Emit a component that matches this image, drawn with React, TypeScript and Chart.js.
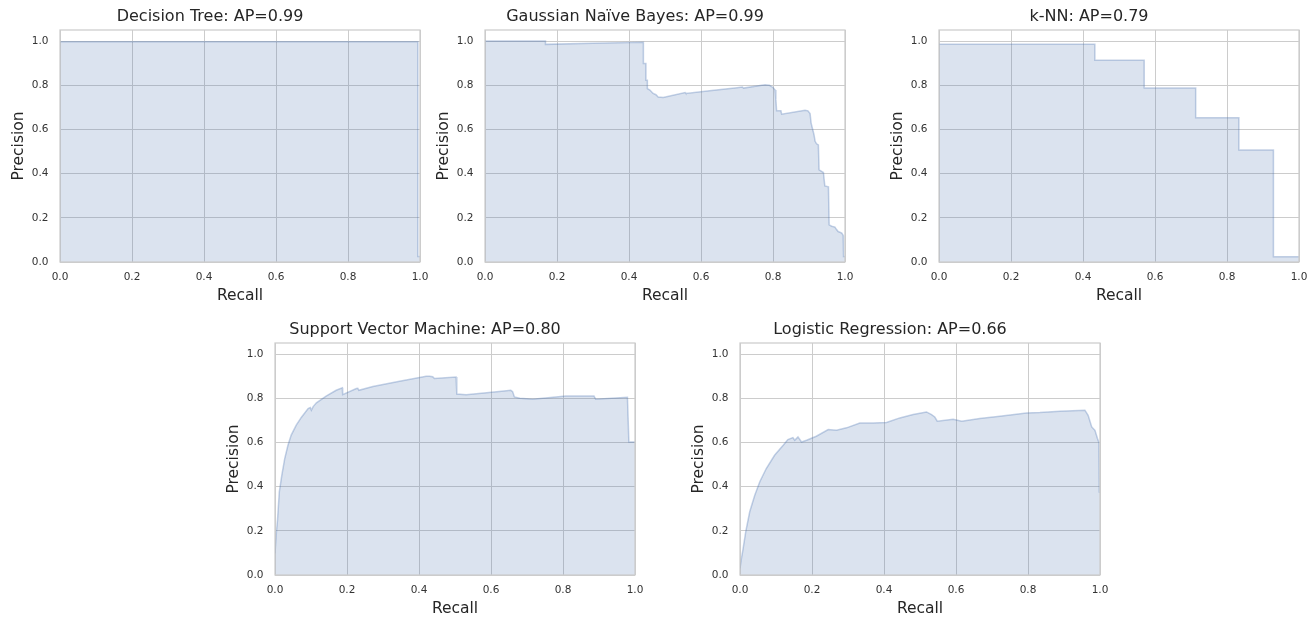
import React, { useEffect, useRef } from 'react';
import { Chart, registerables } from 'chart.js';

Chart.register(...registerables);

// ---- tick labels ----
const xTicks = [0, 0.2, 0.4, 0.6, 0.8, 1.0];
const yTicks = [0, 0.2, 0.4, 0.6, 0.8, 1.0];

// ---- Decision Tree (step) ----
const dtRecall = [0, 0.994, 1.0];
const dtPrecision = [0.997, 0.025, 0.025];

// ---- Gaussian Naive Bayes ----
const gnbRecall = [0, 0.168, 0.168, 0.30, 0.44, 0.44, 0.447, 0.447, 0.451, 0.451, 0.458, 0.467, 0.475, 0.481, 0.495, 0.556, 0.558, 0.63, 0.70, 0.715, 0.718, 0.778, 0.79, 0.80, 0.806, 0.808, 0.810, 0.822, 0.824, 0.889, 0.897, 0.903, 0.906, 0.911, 0.914, 0.917, 0.921, 0.926, 0.928, 0.940, 0.944, 0.954, 0.956, 0.963, 0.972, 0.976, 0.981, 0.991, 0.995, 0.996, 1.0];
const gnbPrecision = [1.0, 1.0, 0.985, 0.99, 0.995, 0.898, 0.898, 0.823, 0.823, 0.785, 0.778, 0.763, 0.757, 0.747, 0.745, 0.767, 0.763, 0.776, 0.789, 0.792, 0.787, 0.802, 0.80, 0.79, 0.778, 0.735, 0.684, 0.684, 0.669, 0.687, 0.684, 0.672, 0.627, 0.595, 0.575, 0.546, 0.535, 0.53, 0.417, 0.405, 0.344, 0.34, 0.168, 0.162, 0.158, 0.148, 0.138, 0.131, 0.12, 0.025, 0.025];

// ---- k-NN (step) ----
const knnRecall = [0, 0.433, 0.570, 0.713, 0.833, 0.929, 1.0];
const knnPrecision = [0.985, 0.913, 0.787, 0.653, 0.507, 0.024, 0.024];

// ---- Support Vector Machine ----
const svmRecall = [0, 0.004, 0.007, 0.012, 0.019, 0.027, 0.036, 0.045, 0.059, 0.073, 0.092, 0.098, 0.101, 0.106, 0.115, 0.142, 0.170, 0.187, 0.188, 0.226, 0.230, 0.233, 0.272, 0.346, 0.420, 0.429, 0.438, 0.443, 0.503, 0.505, 0.531, 0.623, 0.655, 0.660, 0.665, 0.68, 0.716, 0.808, 0.886, 0.891, 0.979, 0.983, 1.0];
const svmPrecision = [0.098, 0.196, 0.249, 0.376, 0.452, 0.527, 0.587, 0.633, 0.678, 0.713, 0.753, 0.758, 0.746, 0.762, 0.779, 0.810, 0.836, 0.847, 0.816, 0.844, 0.845, 0.836, 0.853, 0.877, 0.899, 0.90, 0.897, 0.889, 0.896, 0.819, 0.816, 0.831, 0.836, 0.83, 0.806, 0.80, 0.795, 0.810, 0.81, 0.795, 0.804, 0.602, 0.602];

// ---- Logistic Regression ----
const lrRecall = [0, 0.004, 0.008, 0.016, 0.027, 0.041, 0.055, 0.073, 0.096, 0.120, 0.133, 0.147, 0.152, 0.161, 0.171, 0.185, 0.212, 0.245, 0.268, 0.296, 0.333, 0.370, 0.407, 0.444, 0.481, 0.518, 0.532, 0.541, 0.548, 0.592, 0.616, 0.666, 0.722, 0.796, 0.833, 0.889, 0.958, 0.967, 0.977, 0.986, 0.993, 0.997, 0.998, 1.0];
const lrPrecision = [0.03, 0.075, 0.113, 0.196, 0.286, 0.361, 0.422, 0.482, 0.542, 0.587, 0.613, 0.622, 0.61, 0.625, 0.602, 0.61, 0.628, 0.658, 0.655, 0.666, 0.688, 0.688, 0.69, 0.711, 0.726, 0.738, 0.726, 0.715, 0.696, 0.705, 0.696, 0.708, 0.718, 0.733, 0.735, 0.741, 0.746, 0.723, 0.67, 0.655, 0.618, 0.60, 0.376, 0.376];

const titles = [
  'Decision Tree: AP=0.99',
  'Gaussian Naïve Bayes: AP=0.99',
  'k-NN: AP=0.79',
  'Support Vector Machine: AP=0.80',
  'Logistic Regression: AP=0.66',
];

const FONT = '"DejaVu Sans", sans-serif';
const TEXT = '#262626';
const GRID = '#cccccc';

// layout (plot-area top-left of each panel)
const PLOT_W = 360;
const PLOT_H = 232;
const Y_AXIS_W = 60;
const TITLE_H = 30;
const X_AXIS_H = 50;
const PAD_R = 60;

const panels = [
  { title: titles[0], recall: dtRecall, precision: dtPrecision, stepped: true, left: 60, top: 30 },
  { title: titles[1], recall: gnbRecall, precision: gnbPrecision, stepped: false, left: 485, top: 30 },
  { title: titles[2], recall: knnRecall, precision: knnPrecision, stepped: true, left: 939, top: 30 },
  { title: titles[3], recall: svmRecall, precision: svmPrecision, stepped: false, left: 275, top: 343 },
  { title: titles[4], recall: lrRecall, precision: lrPrecision, stepped: false, left: 740, top: 343 },
];

const framePlugin = {
  id: 'frame',
  afterDatasetsDraw(chart: any) {
    const { ctx, chartArea: a } = chart;
    ctx.save();
    ctx.strokeStyle = GRID;
    ctx.lineWidth = 1.25;
    ctx.strokeRect(a.left, a.top, a.right - a.left, a.bottom - a.top);
    ctx.restore();
  },
};

function Panel(props: any) {
  const { title, recall, precision, stepped, left, top } = props;
  const ref = useRef<HTMLCanvasElement | null>(null);
  const cw = Y_AXIS_W + PLOT_W + PAD_R;
  const ch = TITLE_H + PLOT_H + X_AXIS_H;

  useEffect(() => {
    if (!ref.current) return;
    const data = recall.map((r: number, i: number) => ({ x: r, y: precision[i] }));
    const chart = new Chart(ref.current, {
      type: 'line',
      data: {
        datasets: [
          {
            data,
            stepped: stepped ? 'before' : false,
            borderColor: 'rgba(76,114,176,0.32)',
            backgroundColor: 'rgba(76,114,176,0.2)',
            borderWidth: 1.5,
            pointRadius: 0,
            tension: 0,
            fill: 'origin',
          },
        ],
      },
      options: {
        responsive: false,
        animation: false,
        events: [],
        layout: { padding: { left: 0, right: PAD_R, top: 0, bottom: 0 } },
        plugins: {
          legend: { display: false },
          tooltip: { enabled: false },
          title: {
            display: true,
            text: title,
            color: TEXT,
            font: { family: FONT, size: 16, weight: 'normal', lineHeight: 1.2 },
            padding: { top: 7.4, bottom: 3.4 },
          },
        },
        scales: {
          x: {
            type: 'linear',
            min: 0,
            max: 1,
            afterBuildTicks: (s: any) => {
              s.ticks = xTicks.map((v) => ({ value: v }));
            },
            afterFit: (s: any) => {
              s.height = X_AXIS_H;
            },
            ticks: {
              callback: (v: any) => Number(v).toFixed(1),
              color: '#333333',
              font: { family: FONT, size: 10.5 },
              padding: 9.3,
              maxRotation: 0,
              autoSkip: false,
            },
            grid: { color: GRID, lineWidth: 1, drawTicks: false },
            border: { display: false },
            title: {
              display: true,
              text: 'Recall',
              color: TEXT,
              font: { family: FONT, size: 15.5, lineHeight: 1.2 },
              padding: { top: 0, bottom: 6.3 },
            },
          },
          y: {
            type: 'linear',
            min: 0,
            max: 1.05,
            afterBuildTicks: (s: any) => {
              s.ticks = yTicks.map((v) => ({ value: v }));
            },
            afterFit: (s: any) => {
              s.width = Y_AXIS_W;
            },
            ticks: {
              callback: (v: any) => Number(v).toFixed(1),
              color: '#333333',
              font: { family: FONT, size: 10.5 },
              padding: 11.5,
              autoSkip: false,
            },
            grid: { color: GRID, lineWidth: 1, drawTicks: false },
            border: { display: false },
            title: {
              display: true,
              text: 'Precision',
              color: TEXT,
              font: { family: FONT, size: 15.5, lineHeight: 1.2 },
              padding: { top: 10.1, bottom: 0 },
            },
          },
        },
      },
      plugins: [framePlugin],
    } as any);
    return () => chart.destroy();
  }, []);

  return (
    <canvas
      ref={ref}
      width={cw}
      height={ch}
      style={{
        position: 'absolute',
        left: left - Y_AXIS_W,
        top: top - TITLE_H,
        width: cw,
        height: ch,
      }}
    />
  );
}

export default function App() {
  return (
    <div
      style={{
        position: 'absolute',
        left: 0,
        top: 0,
        width: 1314,
        height: 617,
        overflow: 'hidden',
        background: '#ffffff',
      }}
    >
      {panels.map((p, i) => (
        <Panel key={i} {...p} />
      ))}
    </div>
  );
}
